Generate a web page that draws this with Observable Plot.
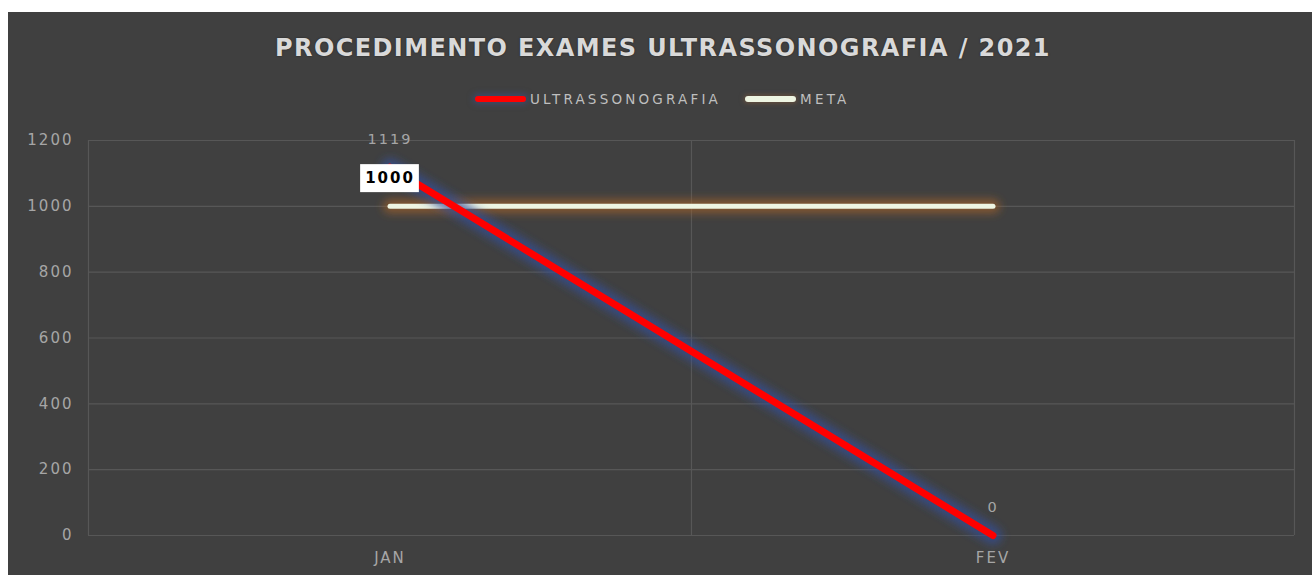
<!DOCTYPE html>
<html><head><meta charset="utf-8">
<script src="https://cdn.jsdelivr.net/npm/d3@7"></script>
<script src="https://cdn.jsdelivr.net/npm/@observablehq/plot@0.6"></script>
<style>
body{margin:0;background:#fff;width:1312px;height:575px;overflow:hidden;font-family:"DejaVu Sans",sans-serif}
#chart{position:absolute;left:8px;top:12px;width:1304px;height:563px;background:#404040;overflow:hidden}
#title{position:absolute;left:0;top:22px;width:1310px;text-align:center;color:#d9d9d9;font-weight:700;font-size:24px;letter-spacing:1.4px;text-shadow:0 0 2px rgba(0,0,0,0.5)}
#legend{position:absolute;top:79px;left:467px;display:flex;align-items:center;color:#bfbfbf;font-size:13.5px;letter-spacing:3.2px;gap:24px}
.item{display:flex;align-items:center;gap:4px}
.sw{width:51px;height:6px;border-radius:3px}
#plot{position:absolute;left:0;top:113px}
#plot svg text{letter-spacing:2px}
</style></head>
<body>
<div id="chart">
  <div id="title"></div>
  <div id="legend"></div>
  <div id="plot"></div>
</div>
<script>
const titleText = "PROCEDIMENTO EXAMES ULTRASSONOGRAFIA / 2021";
const months = ["JAN", "FEV"];
const ultrassonografia = [1119, 0];
const meta = [1000, 1000];
const yTicks = [0, 200, 400, 600, 800, 1000, 1200];
const seriesNames = ["ULTRASSONOGRAFIA", "META"];
const seriesColors = ["#ff0000", "#eef5e2"];

document.getElementById("title").textContent = titleText;
const legend = document.getElementById("legend");
seriesNames.forEach((n, i) => {
  const it = document.createElement("div"); it.className = "item";
  const sw = document.createElement("div"); sw.className = "sw"; sw.style.background = seriesColors[i];
  if (i === 0) sw.style.boxShadow = "0 0 6px 2px rgba(60,80,140,0.6)";
  else sw.style.boxShadow = "0 0 5px 1px rgba(150,100,60,0.5)";
  const tx = document.createElement("span"); tx.textContent = n;
  it.appendChild(sw); it.appendChild(tx); legend.appendChild(it);
});

const rows = months.map((m, i) => ({pos: i + 0.5, month: m, ultra: ultrassonografia[i], meta: meta[i]}));
const boundaries = d3.range(months.length + 1);

const chart = Plot.plot({
  width: 1304, height: 450,
  marginLeft: 80, marginRight: 18, marginTop: 15, marginBottom: 40,
  style: {background: "transparent", color: "#a6a6a6", fontSize: "15px", fontFamily: "'DejaVu Sans', sans-serif"},
  x: {domain: [0, months.length], ticks: rows.map(d => d.pos), tickFormat: p => months[Math.floor(p)], tickSize: 0, tickPadding: 17, label: null},
  y: {domain: [0, 1200], ticks: yTicks, tickFormat: "d", tickSize: 0, tickPadding: 15, label: null},
  marks: [
    Plot.gridY(yTicks, {stroke: "#575757", strokeOpacity: 1, strokeWidth: 1.2}),
    Plot.gridX(boundaries, {stroke: "#575757", strokeOpacity: 1, strokeWidth: 1.2}),
    Plot.line(rows, {x: "pos", y: "meta", stroke: "#a0602a", strokeWidth: 14, strokeOpacity: 0.7, strokeLinecap: "round", ariaDescription: "glow-meta"}),
    Plot.line(rows, {x: "pos", y: "meta", stroke: seriesColors[1], strokeWidth: 5, strokeLinecap: "round"}),
    Plot.line(rows, {x: "pos", y: "ultra", stroke: "#34509a", strokeWidth: 18, strokeOpacity: 0.7, strokeLinecap: "round", ariaDescription: "glow-ultra"}),
    Plot.line(rows, {x: "pos", y: "ultra", stroke: seriesColors[0], strokeWidth: 7, strokeLinecap: "round"}),
    Plot.text(rows, {x: "pos", y: "ultra", text: d => String(d.ultra), dy: -28, fill: "#a6a6a6", fontSize: 14.5}),
    Plot.text(rows.slice(0, 1), {x: "pos", y: "meta", text: d => String(d.meta), dx: 0, dy: -28, fill: "#000", fontWeight: "bold", fontSize: 15, ariaDescription: "meta-label"})
  ]
});
document.getElementById("plot").appendChild(chart);

// glow filter (user-space region so horizontal lines are not clipped)
const svg = d3.select(chart);
const defs = svg.insert("defs", ":first-child");
defs.append("filter").attr("id", "blur").attr("filterUnits", "userSpaceOnUse")
  .attr("x", 0).attr("y", 0).attr("width", 1304).attr("height", 450)
  .append("feGaussianBlur").attr("stdDeviation", 4);
svg.selectAll('g[aria-description="glow-meta"], g[aria-description="glow-ultra"]').attr("filter", "url(#blur)");

// white box behind meta label
svg.selectAll('g[aria-description="meta-label"] text').each(function() {
  const b = this.getBBox();
  d3.select(this.parentNode).insert("rect", "text")
    .attr("x", b.x - 5).attr("y", b.y - 5).attr("width", b.width + 9).attr("height", b.height + 10)
    .attr("fill", "#ffffff")
    .attr("transform", this.getAttribute("transform"));
});
</script>
</body></html>
